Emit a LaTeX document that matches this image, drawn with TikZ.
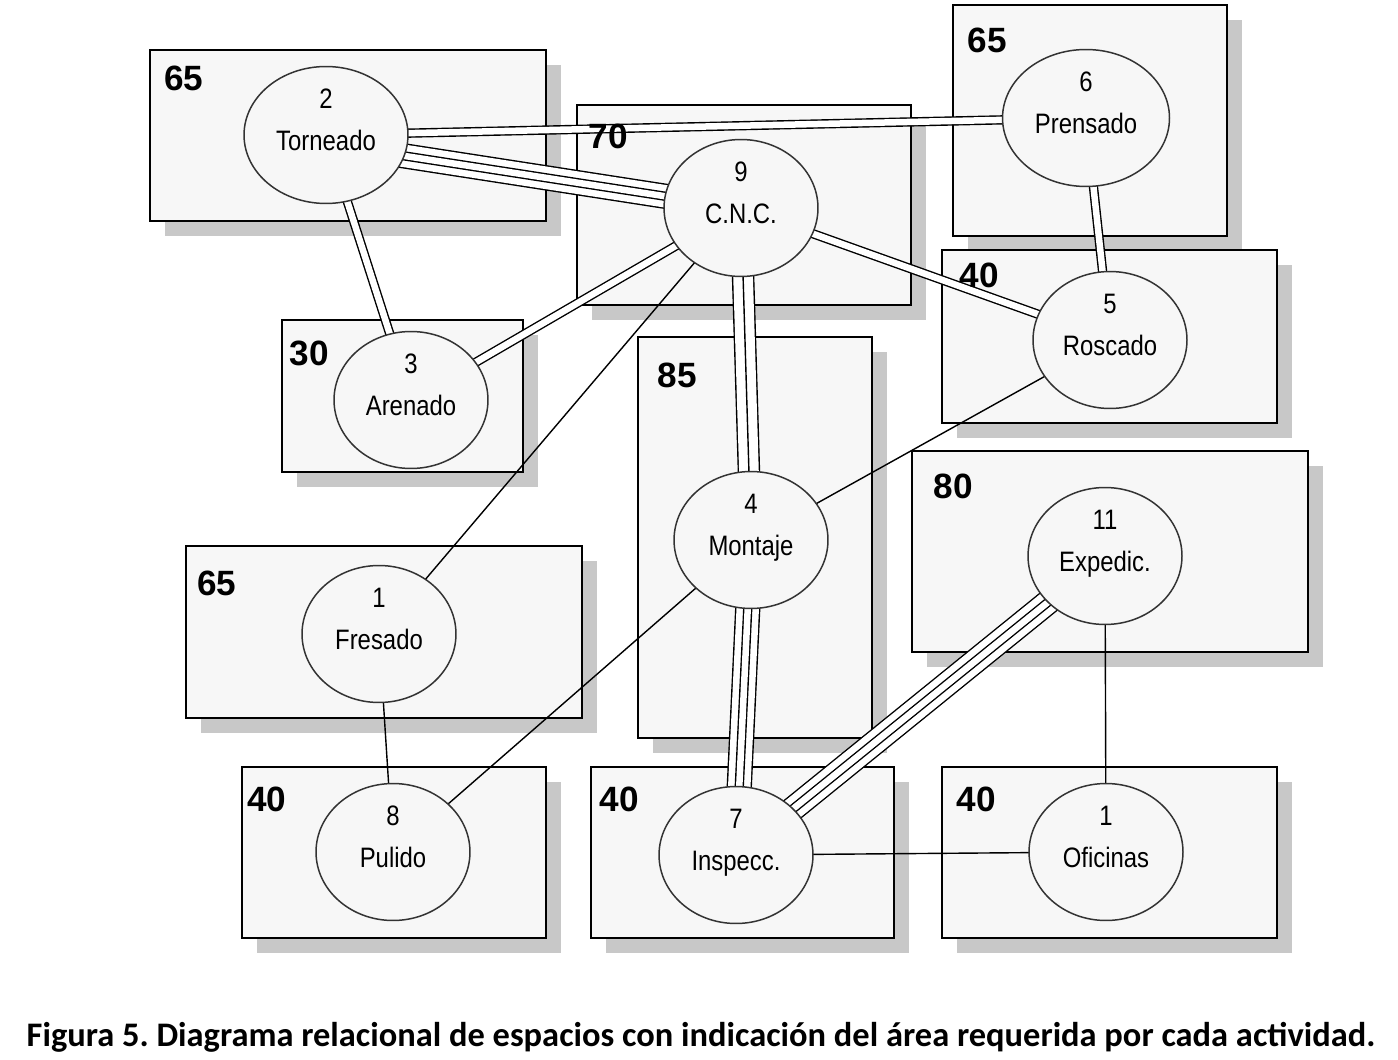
\documentclass[tikz,border=0pt]{standalone}
\usepackage{fontspec}
\setmainfont{Liberation Sans}
\newfontfamily\actfont[FakeStretch=0.85]{Liberation Sans}
\newfontfamily\areafont{Liberation Sans}
\newfontfamily\capfont{Carlito}
\usetikzlibrary{shapes.geometric,shadows,backgrounds}
\definecolor{zonefill}{HTML}{F7F7F7}
\definecolor{zoneshade}{HTML}{C8C8C8}
\newcommand{\actlabel}[2]{\begin{tabular}[b]{@{}c@{}}#1\\#2\end{tabular}}
\frenchspacing

\begin{document}
\begin{tikzpicture}[
  x=0.02cm, y=-0.02cm,
  act/.style={ellipse, draw=black!80, line width=0.85pt, fill=zonefill,
    minimum width=3.08cm, minimum height=2.74cm, inner sep=0pt,
    text height=30pt, text depth=11.8pt,
    font=\actfont\fontsize{16}{24}\selectfont},
  zone/.style={draw, line width=1.1pt, fill=zonefill,
    drop shadow={shadow xshift=0.3cm, shadow yshift=-0.3cm,
      fill=zoneshade, opacity=1}},
  area/.style={inner sep=0pt, font=\areafont\bfseries\fontsize{20}{24}\selectfont},
  caption/.style={inner sep=0pt, font=\capfont\bfseries\fontsize{19.6}{24}\selectfont},
  rel1/.style={draw, line width=0.8pt},
  rel2/.style={draw, line width=0.8pt, double=white, double distance=3.7pt},
  rel3/.style={draw, line width=0.8pt,
    preaction={draw, line width=0.8pt, double=white, double distance=11.2pt}},
  rel4/.style={draw, line width=0.8pt, double=white, double distance=3.7pt,
    preaction={draw, line width=0.8pt, double=white, double distance=12.8pt}}
]
\useasboundingbox (0,0) rectangle (1398,1060);

% activities
\node[act, minimum width=3.28cm] (t2) at (326,135) {\actlabel{2}{Torneado}};
\node[act] (c9)  at (741,208)  {\actlabel{9}{C.N.C.}};
\node[act, minimum width=3.34cm] (p6) at (1086,118) {\actlabel{6}{Prensado}};
\node[act] (r5)  at (1110,340) {\actlabel{5}{Roscado}};
\node[act] (a3)  at (411,400)  {\actlabel{3}{Arenado}};
\node[act] (m4)  at (751,540)  {\actlabel{4}{Montaje}};
\node[act] (e11) at (1105,556) {\actlabel{11}{Expedic.}};
\node[act] (f1)  at (379,634)  {\actlabel{1}{Fresado}};
\node[act] (pu8) at (393,852)  {\actlabel{8}{Pulido}};
\node[act] (i7)  at (736,855)  {\actlabel{7}{Inspecc.}};
\node[act] (o1)  at (1106,852) {\actlabel{1}{Oficinas}};

% required areas
\node[area] (z2)  at (184,78)  {65};
\node[area] (z9)  at (608,136) {70};
\node[area] (z6)  at (987,40)  {65};
\node[area] (z5)  at (979,275) {40};
\node[area] (z3)  at (309,353) {30};
\node[area] (z4)  at (677,375) {85};
\node[area] (z11) at (953,486) {80};
\node[area] (z1)  at (217,583) {65};
\node[area] (z8)  at (267,799) {40};
\node[area] (z7)  at (619,799) {40};
\node[area] (z10) at (976,799) {40};

\node[caption] (cap) at (701,1037)
  {Figura 5. Diagrama relacional de espacios con indicación del área requerida por cada actividad.};

\begin{scope}[on background layer]
\draw[zone] (150,50)  rectangle (546,221);
\draw[zone] (577,105) rectangle (911,305);
\draw[zone] (953,5)   rectangle (1227,236);
\draw[zone] (942,250) rectangle (1277,423);
\draw[zone] (282,320) rectangle (523,472);
\draw[zone] (638,337) rectangle (872,738);
\draw[zone] (912,451) rectangle (1308,652);
\draw[zone] (186,546) rectangle (582,718);
\draw[zone] (242,767) rectangle (546,938);
\draw[zone] (591,767) rectangle (894,938);
\draw[zone] (942,767) rectangle (1277,938);

% relations
\draw[rel4] ([yshift=-5pt]t2.center) -- (c9.center);
\draw[rel2] (t2.center) -- (p6.center);
\draw[rel2] (t2.center) -- (a3.center);
\draw[rel2] (c9.center) -- (a3.center);
\draw[rel2] (c9.center) -- (r5.center);
\draw[rel3] (c9.center) -- (m4.center);
\draw[rel1] (c9.center) -- (f1.center);
\draw[rel2] (p6.center) -- (r5.center);
\draw[rel1] (r5.center) -- (m4.center);
\draw[rel1] (m4.center) -- (pu8.center);
\draw[rel4] (m4.center) -- (i7.center);
\draw[rel1] (f1.center) -- (pu8.center);
\draw[rel4] (e11.center) -- (i7.center);
\draw[rel1] (e11.center) -- (o1.center);
\draw[rel1] (i7.center) -- (o1.center);
\end{scope}
\end{tikzpicture}
\end{document}
